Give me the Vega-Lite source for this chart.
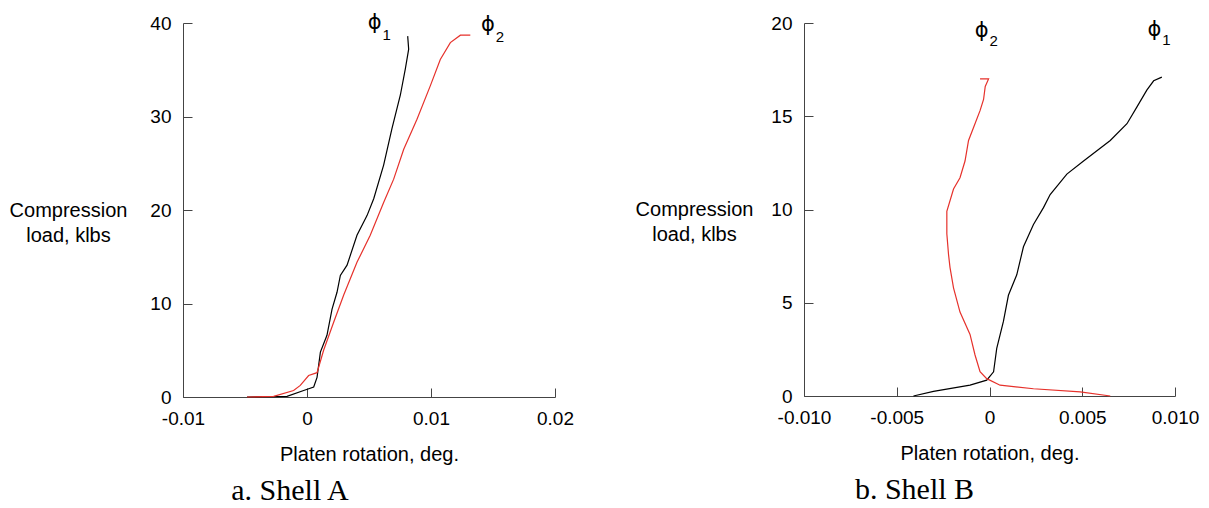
{
  "$schema": "https://vega.github.io/schema/vega-lite/v6.json",
  "background": "white",
  "padding": {"left": 9, "top": 12, "right": 5, "bottom": 0},
  "bounds": "flush",
  "spacing": 249,
  "config": {
    "view": {"stroke": null},
    "font": "Liberation Sans",
    "axis": {
      "grid": false,
      "domainColor": "#444444",
      "tickColor": "#444444",
      "tickSize": -9,
      "labelFontSize": 19,
      "labelColor": "#000000",
      "labelFont": "Liberation Sans",
      "titleFont": "Liberation Sans",
      "titleFontSize": 20,
      "titleFontWeight": "normal",
      "titleColor": "#000000",
      "labelFlush": false,
      "labelOverlap": false
    },
    "axisX": {"labelPadding": 21, "titlePadding": 16},
    "axisY": {"labelPadding": 21, "titleAngle": 0, "titleAlign": "center", "titleBaseline": "middle", "titleLineHeight": 25, "titleX": -115}
  },
  "datasets": {
    "shellA": [
      {"series": "phi1", "i": 0, "rot": -0.00484, "load": 0},
      {"series": "phi1", "i": 1, "rot": -0.00161, "load": 0.07},
      {"series": "phi1", "i": 2, "rot": -0.00027, "load": 0.7},
      {"series": "phi1", "i": 3, "rot": 0.00054, "load": 1.07},
      {"series": "phi1", "i": 4, "rot": 0.00081, "load": 2.1},
      {"series": "phi1", "i": 5, "rot": 0.00108, "load": 4.8},
      {"series": "phi1", "i": 6, "rot": 0.00161, "load": 6.6},
      {"series": "phi1", "i": 7, "rot": 0.00202, "load": 9.4},
      {"series": "phi1", "i": 8, "rot": 0.00242, "load": 11.2},
      {"series": "phi1", "i": 9, "rot": 0.00269, "load": 13.0},
      {"series": "phi1", "i": 10, "rot": 0.00323, "load": 14.1},
      {"series": "phi1", "i": 11, "rot": 0.00403, "load": 17.3},
      {"series": "phi1", "i": 12, "rot": 0.00484, "load": 19.4},
      {"series": "phi1", "i": 13, "rot": 0.00538, "load": 21.2},
      {"series": "phi1", "i": 14, "rot": 0.00618, "load": 24.8},
      {"series": "phi1", "i": 15, "rot": 0.00685, "load": 28.7},
      {"series": "phi1", "i": 16, "rot": 0.00753, "load": 32.3},
      {"series": "phi1", "i": 17, "rot": 0.00793, "load": 35.1},
      {"series": "phi1", "i": 18, "rot": 0.0082, "load": 37.2},
      {"series": "phi1", "i": 19, "rot": 0.00812, "load": 38.6},
      {"series": "phi2", "i": 0, "rot": -0.00484, "load": 0},
      {"series": "phi2", "i": 1, "rot": -0.00269, "load": 0.07},
      {"series": "phi2", "i": 2, "rot": -0.00108, "load": 0.7},
      {"series": "phi2", "i": 3, "rot": -0.00054, "load": 1.24},
      {"series": "phi2", "i": 4, "rot": 0.00013, "load": 2.3},
      {"series": "phi2", "i": 5, "rot": 0.00081, "load": 2.6},
      {"series": "phi2", "i": 6, "rot": 0.00134, "load": 5.0},
      {"series": "phi2", "i": 7, "rot": 0.00215, "load": 8.0},
      {"series": "phi2", "i": 8, "rot": 0.00296, "load": 10.9},
      {"series": "phi2", "i": 9, "rot": 0.00403, "load": 14.4},
      {"series": "phi2", "i": 10, "rot": 0.0051, "load": 17.3},
      {"series": "phi2", "i": 11, "rot": 0.00618, "load": 20.8},
      {"series": "phi2", "i": 12, "rot": 0.00699, "load": 23.3},
      {"series": "phi2", "i": 13, "rot": 0.0078, "load": 26.5},
      {"series": "phi2", "i": 14, "rot": 0.00887, "load": 29.7},
      {"series": "phi2", "i": 15, "rot": 0.00995, "load": 33.3},
      {"series": "phi2", "i": 16, "rot": 0.01075, "load": 36.1},
      {"series": "phi2", "i": 17, "rot": 0.01156, "load": 37.9},
      {"series": "phi2", "i": 18, "rot": 0.01237, "load": 38.7},
      {"series": "phi2", "i": 19, "rot": 0.01317, "load": 38.7}
    ],
    "shellB": [
      {"series": "phi1", "i": 0, "rot": -0.0041, "load": 0},
      {"series": "phi1", "i": 1, "rot": -0.00302, "load": 0.25},
      {"series": "phi1", "i": 2, "rot": -0.00105, "load": 0.58},
      {"series": "phi1", "i": 3, "rot": -0.00015, "load": 0.85},
      {"series": "phi1", "i": 4, "rot": 0.00022, "load": 1.3},
      {"series": "phi1", "i": 5, "rot": 0.00039, "load": 2.55},
      {"series": "phi1", "i": 6, "rot": 0.00075, "load": 4.0},
      {"series": "phi1", "i": 7, "rot": 0.00102, "load": 5.4},
      {"series": "phi1", "i": 8, "rot": 0.00147, "load": 6.5},
      {"series": "phi1", "i": 9, "rot": 0.00183, "load": 8.0},
      {"series": "phi1", "i": 10, "rot": 0.00237, "load": 9.2},
      {"series": "phi1", "i": 11, "rot": 0.00291, "load": 10.1},
      {"series": "phi1", "i": 12, "rot": 0.00327, "load": 10.8},
      {"series": "phi1", "i": 13, "rot": 0.00417, "load": 11.9},
      {"series": "phi1", "i": 14, "rot": 0.00507, "load": 12.6},
      {"series": "phi1", "i": 15, "rot": 0.00651, "load": 13.7},
      {"series": "phi1", "i": 16, "rot": 0.00741, "load": 14.6},
      {"series": "phi1", "i": 17, "rot": 0.00795, "load": 15.5},
      {"series": "phi1", "i": 18, "rot": 0.00848, "load": 16.4},
      {"series": "phi1", "i": 19, "rot": 0.00885, "load": 16.9},
      {"series": "phi1", "i": 20, "rot": 0.00929, "load": 17.1},
      {"series": "phi2", "i": 0, "rot": -0.00051, "load": 17.0},
      {"series": "phi2", "i": 1, "rot": -0.00005, "load": 17.0},
      {"series": "phi2", "i": 2, "rot": -0.00023, "load": 16.6},
      {"series": "phi2", "i": 3, "rot": -0.00032, "load": 15.9},
      {"series": "phi2", "i": 4, "rot": -0.00051, "load": 15.3},
      {"series": "phi2", "i": 5, "rot": -0.00086, "load": 14.4},
      {"series": "phi2", "i": 6, "rot": -0.00113, "load": 13.7},
      {"series": "phi2", "i": 7, "rot": -0.00132, "load": 12.6},
      {"series": "phi2", "i": 8, "rot": -0.00159, "load": 11.7},
      {"series": "phi2", "i": 9, "rot": -0.00194, "load": 11.1},
      {"series": "phi2", "i": 10, "rot": -0.0023, "load": 9.9},
      {"series": "phi2", "i": 11, "rot": -0.0023, "load": 8.7},
      {"series": "phi2", "i": 12, "rot": -0.00221, "load": 7.6},
      {"series": "phi2", "i": 13, "rot": -0.00213, "load": 6.9},
      {"series": "phi2", "i": 14, "rot": -0.00194, "load": 5.8},
      {"series": "phi2", "i": 15, "rot": -0.00159, "load": 4.5},
      {"series": "phi2", "i": 16, "rot": -0.00105, "load": 3.3},
      {"series": "phi2", "i": 17, "rot": -0.00078, "load": 2.2},
      {"series": "phi2", "i": 18, "rot": -0.00051, "load": 1.3},
      {"series": "phi2", "i": 19, "rot": -0.00015, "load": 0.93},
      {"series": "phi2", "i": 20, "rot": 0.00057, "load": 0.58},
      {"series": "phi2", "i": 21, "rot": 0.00237, "load": 0.39},
      {"series": "phi2", "i": 22, "rot": 0.00489, "load": 0.22},
      {"series": "phi2", "i": 23, "rot": 0.00651, "load": 0}
    ],
    "labelsA": [
      {"rot": 0.00545, "load": 40.0, "sym": "ϕ", "sub": "1"},
      {"rot": 0.0146, "load": 39.8, "sym": "ϕ", "sub": "2"}
    ],
    "labelsB": [
      {"rot": -0.00042, "load": 19.55, "sym": "ϕ", "sub": "2"},
      {"rot": 0.00889, "load": 19.64, "sym": "ϕ", "sub": "1"}
    ]
  },
  "hconcat": [
    {
      "width": 372,
      "height": 374,
      "title": {"text": "a. Shell A", "orient": "bottom", "anchor": "middle", "frame": "group", "dx": -79, "offset": 12, "font": "Liberation Serif", "fontSize": 30, "fontWeight": "normal", "color": "#000000"},
      "layer": [
        {
          "data": {"name": "shellA"},
          "mark": {"type": "line", "strokeWidth": 1.2, "clip": false},
          "encoding": {
            "x": {"field": "rot", "type": "quantitative", "scale": {"domain": [-0.01, 0.02], "nice": false, "zero": false},
                  "axis": {"title": "Platen rotation, deg.", "values": [-0.01, 0, 0.01, 0.02], "labelExpr": "datum.value == 0 ? '0' : (datum.value < 0 ? '-' : '') + format(abs(datum.value), '.2f')"}},
            "y": {"field": "load", "type": "quantitative", "scale": {"domain": [0, 40], "nice": false},
                  "axis": {"title": ["Compression", "load, klbs"], "values": [0, 10, 20, 30, 40], "titleY": 187}},
            "color": {"field": "series", "type": "nominal", "scale": {"domain": ["phi1", "phi2"], "range": ["#000000", "#e6312b"]}, "legend": null},
            "order": {"field": "i", "type": "quantitative"}
          }
        },
        {
          "data": {"name": "labelsA"},
          "mark": {"type": "text", "font": "DejaVu Sans", "fontSize": 21, "color": "#000000"},
          "encoding": {
            "x": {"field": "rot", "type": "quantitative"},
            "y": {"field": "load", "type": "quantitative"},
            "text": {"field": "sym"}
          }
        },
        {
          "data": {"name": "labelsA"},
          "mark": {"type": "text", "font": "Liberation Sans", "fontSize": 15, "color": "#000000", "dx": 12, "dy": 12},
          "encoding": {
            "x": {"field": "rot", "type": "quantitative"},
            "y": {"field": "load", "type": "quantitative"},
            "text": {"field": "sub"}
          }
        }
      ]
    },
    {
      "width": 371,
      "height": 373,
      "title": {"text": "b. Shell B", "orient": "bottom", "anchor": "middle", "frame": "group", "dx": -75, "offset": 12, "font": "Liberation Serif", "fontSize": 30, "fontWeight": "normal", "color": "#000000"},
      "layer": [
        {
          "data": {"name": "shellB"},
          "mark": {"type": "line", "strokeWidth": 1.2, "clip": false},
          "encoding": {
            "x": {"field": "rot", "type": "quantitative", "scale": {"domain": [-0.01, 0.01], "nice": false, "zero": false},
                  "axis": {"title": "Platen rotation, deg.", "values": [-0.01, -0.005, 0, 0.005, 0.01], "labelExpr": "datum.value == 0 ? '0' : (datum.value < 0 ? '-' : '') + format(abs(datum.value), '.3f')"}},
            "y": {"field": "load", "type": "quantitative", "scale": {"domain": [0, 20], "nice": false},
                  "axis": {"title": ["Compression", "load, klbs"], "values": [0, 5, 10, 15, 20], "titleY": 186, "titleX": -110}},
            "color": {"field": "series", "type": "nominal", "scale": {"domain": ["phi1", "phi2"], "range": ["#000000", "#e6312b"]}, "legend": null},
            "order": {"field": "i", "type": "quantitative"}
          }
        },
        {
          "data": {"name": "labelsB"},
          "mark": {"type": "text", "font": "DejaVu Sans", "fontSize": 21, "color": "#000000"},
          "encoding": {
            "x": {"field": "rot", "type": "quantitative"},
            "y": {"field": "load", "type": "quantitative"},
            "text": {"field": "sym"}
          }
        },
        {
          "data": {"name": "labelsB"},
          "mark": {"type": "text", "font": "Liberation Sans", "fontSize": 15, "color": "#000000", "dx": 12, "dy": 10},
          "encoding": {
            "x": {"field": "rot", "type": "quantitative"},
            "y": {"field": "load", "type": "quantitative"},
            "text": {"field": "sub"}
          }
        }
      ]
    }
  ]
}
